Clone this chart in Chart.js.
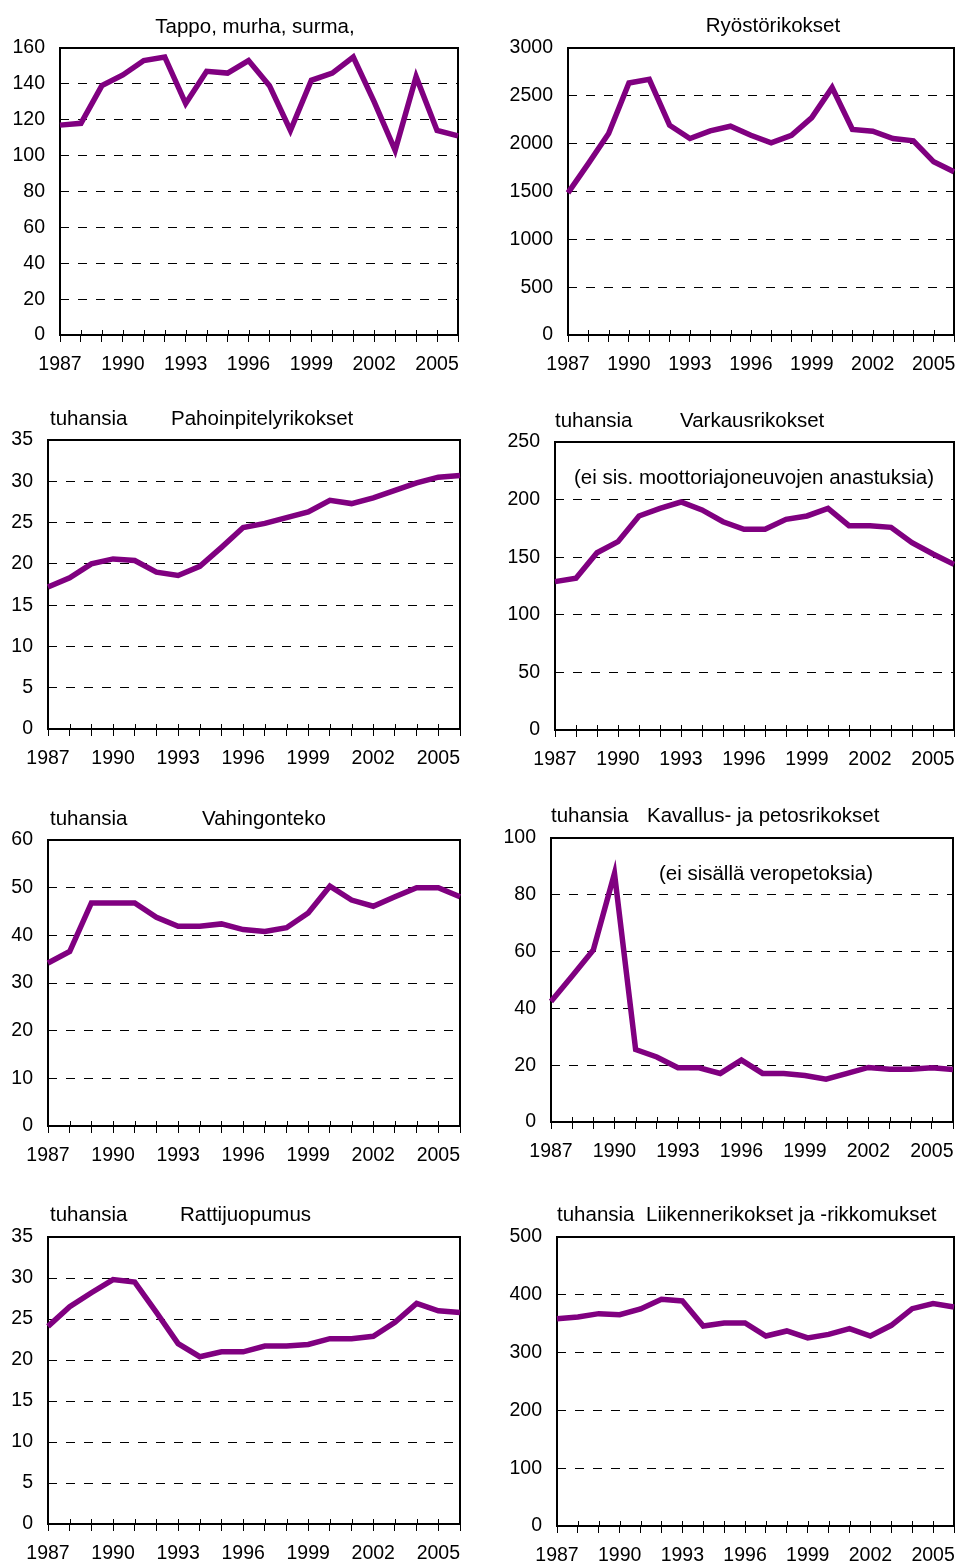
<!DOCTYPE html>
<html>
<head>
<meta charset="utf-8">
<script src="https://cdn.jsdelivr.net/npm/chart.js@4"></script>
<style>
  html, body { margin: 0; padding: 0; background: #fff; }
  body { width: 960px; height: 1564px; position: relative; overflow: hidden;
         font-family: "Liberation Sans", Arial, sans-serif; color: #000; }
  .panel { position: absolute; width: 480px; }
  .txt { position: absolute; font-size: 20.5px; line-height: 20.5px; white-space: nowrap; z-index: 2; }
</style>
</head>
<body>
<script>
// vuodet 1987-2006
const years = [1987,1988,1989,1990,1991,1992,1993,1994,1995,1996,1997,1998,1999,2000,2001,2002,2003,2004,2005,2006];
const yearLabels = [1987,1990,1993,1996,1999,2002,2005];

const tappo = [117,118,139,145,153,155,129,147,146,153,139,114,142,146,155,130,103,144,114,111];
const ryosto = [1486,1792,2106,2635,2673,2193,2054,2134,2182,2088,2008,2088,2273,2586,2148,2130,2054,2029,1810,1706];
const pahoinpitely = [17.2,18.3,20.0,20.6,20.4,19.0,18.6,19.7,22.0,24.4,24.9,25.6,26.3,27.7,27.3,28.0,28.9,29.8,30.5,30.7];
const varkaus = [128.8,131.7,153.9,163.5,185.8,192.4,197.9,191,180.8,174.2,174.2,182.9,185.8,192.4,177.4,177.4,175.9,162.6,152.8,143.8];
const vahingonteko = [34.2,36.6,46.8,46.8,46.8,43.8,41.9,41.9,42.4,41.2,40.8,41.6,44.7,50.3,47.4,46.1,48.1,50.0,50.0,48.1];
const kavallus = [42.4,51.4,60.6,87.5,25.5,22.9,19.1,19.1,17.1,21.8,17.1,17.1,16.4,15.1,17.1,19.2,18.6,18.6,19.1,18.5];
const ratti = [24.1,26.5,28.2,29.8,29.5,25.8,22.0,20.4,21.0,21.0,21.7,21.7,21.9,22.6,22.6,22.9,24.6,26.9,26.0,25.8];
const liikenne = [358.7,361.6,367.4,365.6,375.4,392.2,389.3,346,351.2,351.2,328.7,337.4,325.3,331.6,341.4,328.7,347.2,376,384.7,378.9];

const seriesList = [tappo, ryosto, pahoinpitely, varkaus, vahingonteko, kavallus, ratti, liikenne];
const yMax  = [160, 3000, 35, 250, 60, 100, 35, 500];
const yStep = [20, 500, 5, 50, 10, 20, 5, 100];

// plot area of each panel: [left, top, right, bottom]
const rects = [
  [60, 48, 458, 335], [568, 48, 954, 335],
  [48, 440, 460, 729], [555, 442, 954, 730],
  [48, 840, 460, 1126], [551, 838, 953, 1122],
  [48, 1237, 460, 1524], [557, 1237, 954, 1526]
];

// texts: [x, baseline y, text, align]
const texts = [
  [255, 33, 'Tappo, murha, surma,', 'center'],
  [773, 32, 'Ryöstörikokset', 'center'],
  [50, 425, 'tuhansia', 'left'], [171, 425, 'Pahoinpitelyrikokset', 'left'],
  [555, 427, 'tuhansia', 'left'], [680, 427, 'Varkausrikokset', 'left'],
  [754, 484, '(ei sis. moottoriajoneuvojen anastuksia)', 'center'],
  [50, 825, 'tuhansia', 'left'], [202, 825, 'Vahingonteko', 'left'],
  [551, 822, 'tuhansia', 'left'], [647, 822, 'Kavallus- ja petosrikokset', 'left'],
  [766, 880, '(ei sisällä veropetoksia)', 'center'],
  [50, 1221, 'tuhansia', 'left'], [180, 1221, 'Rattijuopumus', 'left'],
  [557, 1221, 'tuhansia', 'left'], [646, 1221, 'Liikennerikokset ja -rikkomukset', 'left']
];

texts.forEach(t => {
  const d = document.createElement('div');
  d.className = 'txt';
  d.textContent = t[2];
  d.style.top = (t[1] - 17.4) + 'px';
  d.style.left = t[0] + 'px';
  if (t[3] === 'center') d.style.transform = 'translateX(-50%)';
  document.body.appendChild(d);
});

const framePlugin = {
  id: 'frame',
  beforeDatasetsDraw(chart) {
    const {ctx, chartArea: a} = chart;
    const xs = chart.scales.x;
    ctx.save();
    ctx.strokeStyle = '#000';
    ctx.lineWidth = 1;
    // tick marks above the axis
    ctx.beginPath();
    for (let i = 0; i < years.length; i++) {
      const px = Math.round(xs.getPixelForValue(i)) + 0.5;
      ctx.moveTo(px, a.bottom - 5);
      ctx.lineTo(px, a.bottom);
    }
    ctx.stroke();
    ctx.lineWidth = 2;
    ctx.strokeRect(a.left, a.top, a.right - a.left, a.bottom - a.top);
    ctx.restore();
  }
};

Chart.defaults.font.family = '"Liberation Sans", Arial, sans-serif';
Chart.defaults.font.size = 19.5;
Chart.defaults.color = '#000';

seriesList.forEach((data, i) => {
  const [l, t, r, b] = rects[i];
  const col = i % 2 === 0 ? 0 : 480;
  const top = t - 15, height = (b + 45) - top;
  const div = document.createElement('div');
  div.className = 'panel';
  div.style.left = col + 'px';
  div.style.top = top + 'px';
  div.style.height = height + 'px';
  const canvas = document.createElement('canvas');
  div.appendChild(canvas);
  document.body.appendChild(div);

  new Chart(canvas, {
    type: 'line',
    data: {
      labels: years.map(String),
      datasets: [{
        data: data,
        borderColor: '#800080',
        borderWidth: 5.5,
        pointRadius: 0,
        tension: 0,
        fill: false
      }]
    },
    options: {
      responsive: true,
      maintainAspectRatio: false,
      animation: false,
      events: [],
      layout: { padding: { top: 15, right: 480 - (r - col), left: 0, bottom: 0 } },
      plugins: { legend: { display: false }, tooltip: { enabled: false } },
      scales: {
        x: {
          offset: false,
          afterFit: s => { s.height = 45; s.paddingLeft = 0; s.paddingRight = 0; },
          border: { display: false },
          grid: { drawOnChartArea: false, drawTicks: true, tickLength: 7, color: '#000', lineWidth: 1 },
          ticks: {
            autoSkip: false, maxRotation: 0, padding: 11,
            callback: (v, idx) => yearLabels.includes(years[idx]) ? String(years[idx]) : ''
          }
        },
        y: {
          min: 0, max: yMax[i],
          afterFit: s => { s.width = l - col; s.paddingTop = 0; s.paddingBottom = 0; },
          border: { display: false, dash: [9, 9] },
          grid: { drawTicks: false, color: '#000', lineWidth: 1 },
          ticks: { stepSize: yStep[i], padding: 15, callback: v => String(v) }
        }
      }
    },
    plugins: [framePlugin]
  });
});
</script>
</body>
</html>
